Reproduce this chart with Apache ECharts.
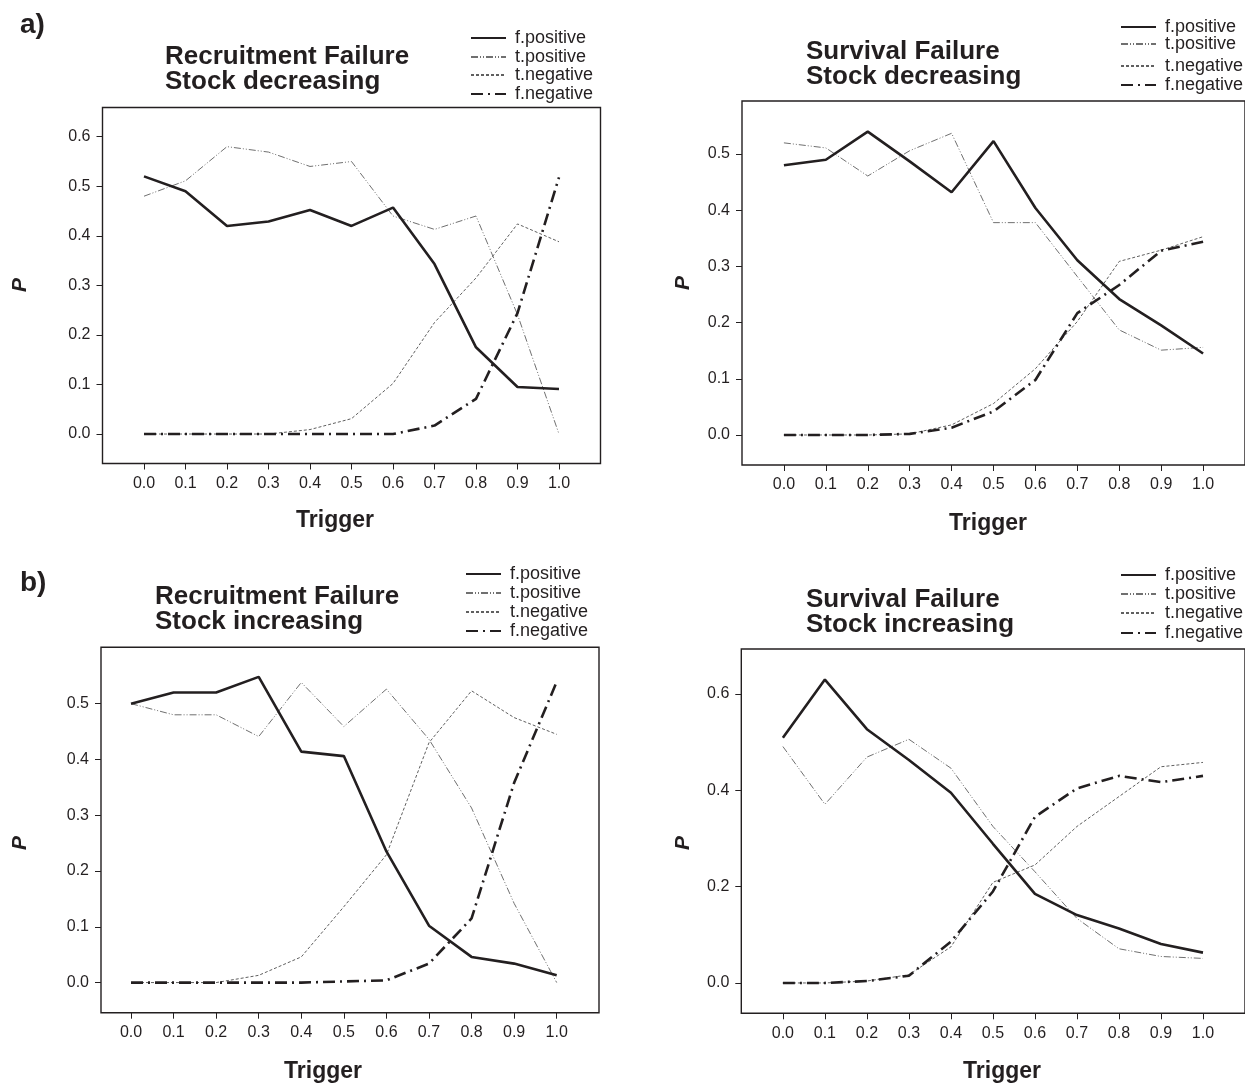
<!DOCTYPE html>
<html>
<head>
<meta charset="utf-8">
<script src="https://cdn.jsdelivr.net/npm/echarts@6/dist/echarts.min.js"></script>
<style>
  html, body { margin: 0; padding: 0; background: #fff; }
  #chart { width: 1245px; height: 1083px; }
</style>
</head>
<body>
<div id="chart"></div>
<script>
// ---------- data ----------
const triggers = [0.0, 0.1, 0.2, 0.3, 0.4, 0.5, 0.6, 0.7, 0.8, 0.9, 1.0];
const triggerLabels = ['0.0','0.1','0.2','0.3','0.4','0.5','0.6','0.7','0.8','0.9','1.0'];
const seriesNames = ['f.positive', 't.positive', 't.negative', 'f.negative'];

// a) Recruitment Failure, Stock decreasing
const recDec_fPos = [0.520, 0.490, 0.420, 0.429, 0.452, 0.420, 0.457, 0.343, 0.175, 0.095, 0.091];
const recDec_tPos = [0.480, 0.511, 0.580, 0.569, 0.540, 0.550, 0.440, 0.413, 0.440, 0.241, 0.000];
const recDec_tNeg = [0.000, 0.000, 0.000, 0.000, 0.009, 0.031, 0.102, 0.225, 0.315, 0.424, 0.388];
const recDec_fNeg = [0.000, 0.000, 0.000, 0.000, 0.000, 0.000, 0.000, 0.017, 0.071, 0.244, 0.518];

// a) Survival Failure, Stock decreasing
const surDec_fPos = [0.480, 0.490, 0.540, 0.487, 0.432, 0.523, 0.404, 0.311, 0.242, 0.195, 0.145];
const surDec_tPos = [0.520, 0.511, 0.461, 0.506, 0.537, 0.378, 0.378, 0.282, 0.187, 0.151, 0.156];
const surDec_tNeg = [0.000, 0.000, 0.000, 0.002, 0.018, 0.056, 0.118, 0.202, 0.309, 0.329, 0.353];
const surDec_fNeg = [0.000, 0.000, 0.000, 0.002, 0.013, 0.042, 0.098, 0.217, 0.267, 0.328, 0.344];

// b) Recruitment Failure, Stock increasing
const recInc_fPos = [0.500, 0.520, 0.520, 0.548, 0.414, 0.406, 0.235, 0.102, 0.046, 0.034, 0.013];
const recInc_tPos = [0.500, 0.480, 0.480, 0.441, 0.538, 0.459, 0.526, 0.436, 0.313, 0.142, 0.000];
const recInc_tNeg = [0.000, 0.000, 0.000, 0.013, 0.046, 0.136, 0.229, 0.430, 0.523, 0.475, 0.445];
const recInc_fNeg = [0.000, 0.000, 0.000, 0.000, 0.000, 0.002, 0.004, 0.034, 0.115, 0.358, 0.539];

// b) Survival Failure, Stock increasing
const surInc_fPos = [0.509, 0.630, 0.527, 0.463, 0.395, 0.289, 0.185, 0.141, 0.113, 0.081, 0.063];
const surInc_tPos = [0.491, 0.371, 0.469, 0.506, 0.446, 0.325, 0.231, 0.134, 0.071, 0.055, 0.051];
const surInc_tNeg = [0.000, 0.000, 0.004, 0.017, 0.075, 0.209, 0.245, 0.325, 0.387, 0.449, 0.458];
const surInc_fNeg = [0.000, 0.000, 0.004, 0.015, 0.086, 0.190, 0.345, 0.404, 0.430, 0.417, 0.430];

const yTicksA = [0.0, 0.1, 0.2, 0.3, 0.4, 0.5, 0.6];
const yTicksB = [0.0, 0.1, 0.2, 0.3, 0.4, 0.5];
const yTicksC = [0.0, 0.1, 0.2, 0.3, 0.4, 0.5];
const yTicksD = [0.0, 0.2, 0.4, 0.6];

const panelTitles = [
  'Recruitment Failure\nStock decreasing',
  'Survival Failure\nStock decreasing',
  'Recruitment Failure\nStock increasing',
  'Survival Failure\nStock increasing'
];

// ---------- layout / style ----------
const FONT = '"Liberation Sans", Arial, Helvetica, sans-serif';
const INK = '#231f20';

const panels = [
  { grid: {left: 102.5, top: 107.5, width: 498, height: 356},
    xMin: -0.1, xMax: 1.1, yMin: -0.0595, yMax: 0.659, yTicks: yTicksA,
    values: [recDec_fPos, recDec_tPos, recDec_tNeg, recDec_fNeg],
    title: {x: 165, y: 44}, legend: {x: 470, ys: [38, 57, 75, 94]},
    pLabel: [20, 285], trig: [335, 521] },
  { grid: {left: 742, top: 101, width: 512, height: 364},
    xMin: -0.1, xMax: 1.1, yMin: -0.0534, yMax: 0.5945, yTicks: yTicksB,
    values: [surDec_fPos, surDec_tPos, surDec_tNeg, surDec_fNeg],
    title: {x: 806, y: 39}, legend: {x: 1120, ys: [27, 44, 66, 85]},
    pLabel: [683, 283], trig: [988, 524] },
  { grid: {left: 101, top: 647.3, width: 498, height: 365.4},
    xMin: -0.0705, xMax: 1.0994, yMin: -0.054, yMax: 0.601, yTicks: yTicksC,
    values: [recInc_fPos, recInc_tPos, recInc_tNeg, recInc_fNeg],
    title: {x: 155, y: 584}, legend: {x: 465, ys: [574, 593, 612, 631]},
    pLabel: [20, 843], trig: [323, 1072] },
  { grid: {left: 741.3, top: 649, width: 513, height: 364.3},
    xMin: -0.099, xMax: 1.1, yMin: -0.063, yMax: 0.6935, yTicks: yTicksD,
    values: [surInc_fPos, surInc_tPos, surInc_tNeg, surInc_fNeg],
    title: {x: 806, y: 587}, legend: {x: 1120, ys: [575, 594, 613, 633]},
    pLabel: [683, 843], trig: [1002, 1072] }
];

const lineStyles = {
  'f.positive': { color: INK, width: 2.6, type: 'solid' },
  't.positive': { color: '#707070', width: 1, type: [7, 2, 1, 2, 1, 2] },
  't.negative': { color: '#606060', width: 1, type: [3, 2] },
  'f.negative': { color: INK, width: 2.6, type: [12, 5, 2, 5] }
};

const grid = [], xAxis = [], yAxis = [], series = [], title = [], legend = [], graphic = [];

panels.forEach((p, i) => {
  grid.push(Object.assign({
    show: true, borderColor: INK, borderWidth: 1.4, backgroundColor: 'transparent'
  }, p.grid));

  xAxis.push({
    type: 'value', gridIndex: i, min: p.xMin, max: p.xMax, position: 'bottom',
    axisLine: { show: false, onZero: false },
    splitLine: { show: false },
    axisTick: { show: true, inside: false, length: 6, customValues: triggers,
                lineStyle: { color: INK, width: 1 } },
    axisLabel: { show: true, margin: 12, customValues: triggers,
                 formatter: v => triggerLabels[triggers.findIndex(t => Math.abs(t - v) < 1e-6)] || '',
                 color: INK, fontSize: 16, fontFamily: FONT }
  });

  yAxis.push({
    type: 'value', gridIndex: i, min: p.yMin, max: p.yMax, position: 'left',
    axisLine: { show: false, onZero: false },
    splitLine: { show: false },
    axisTick: { show: true, inside: false, length: 6, customValues: p.yTicks,
                lineStyle: { color: INK, width: 1 } },
    axisLabel: { show: true, margin: 12, customValues: p.yTicks,
                 formatter: v => v.toFixed(1),
                 color: INK, fontSize: 16, fontFamily: FONT }
  });

  seriesNames.forEach((name, k) => {
    series.push({
      type: 'line', name: name, xAxisIndex: i, yAxisIndex: i,
      symbol: 'none', animation: false, silent: true,
      lineStyle: Object.assign({}, lineStyles[name]),
      itemStyle: { color: lineStyles[name].color },
      z: name === 'f.positive' || name === 'f.negative' ? 3 : 2,
      data: triggers.map((t, j) => [t, p.values[k][j]])
    });
  });

  title.push({
    text: panelTitles[i], left: p.title.x, top: p.title.y,
    padding: 0,
    textStyle: { fontFamily: FONT, fontWeight: 'bold', fontSize: 26, lineHeight: 25, color: INK }
  });

  seriesNames.forEach((name, k) => {
    legend.push({
      data: [name], orient: 'vertical', left: p.legend.x, top: p.legend.ys[k] - 9,
      padding: 0, itemWidth: 35, itemHeight: 18, itemGap: 0,
      selectedMode: false,
      itemStyle: { opacity: 0 },
      textStyle: { fontFamily: FONT, fontSize: 18, color: INK, padding: [0, 0, 0, 4] }
    });
  });

  graphic.push({
    type: 'text', x: p.pLabel[0], y: p.pLabel[1], rotation: Math.PI / 2,
    style: { text: 'P', font: 'italic bold 21px ' + FONT, fill: INK,
             textAlign: 'center', textVerticalAlign: 'middle' }
  });
  graphic.push({
    type: 'text', x: p.trig[0], y: p.trig[1],
    style: { text: 'Trigger', font: 'bold 23px ' + FONT, fill: INK,
             textAlign: 'center', textVerticalAlign: 'middle' }
  });
});

graphic.push({ type: 'text', x: 20, y: 25,
  style: { text: 'a)', font: 'bold 28px ' + FONT, fill: INK, textAlign: 'left', textVerticalAlign: 'middle' } });
graphic.push({ type: 'text', x: 20, y: 583,
  style: { text: 'b)', font: 'bold 28px ' + FONT, fill: INK, textAlign: 'left', textVerticalAlign: 'middle' } });

const chart = echarts.init(document.getElementById('chart'), null, { renderer: 'canvas' });
chart.setOption({
  backgroundColor: '#ffffff',
  animation: false,
  grid, xAxis, yAxis, series, title, legend, graphic
});
</script>
</body>
</html>
